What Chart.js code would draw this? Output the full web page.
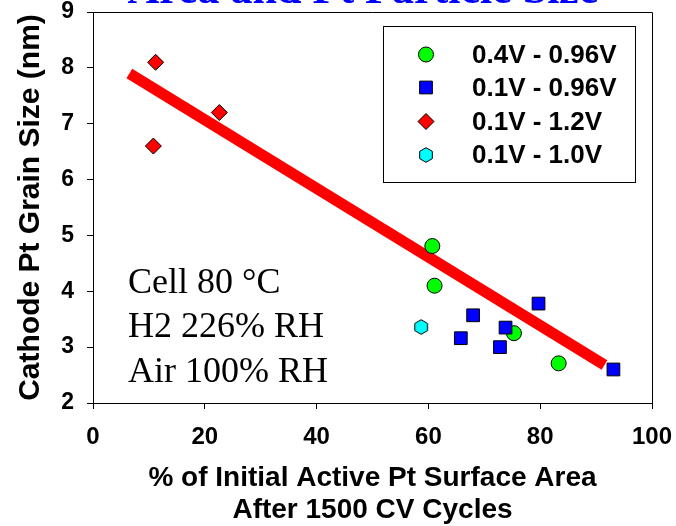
<!DOCTYPE html>
<html>
<head>
<meta charset="utf-8">
<script src="https://cdn.jsdelivr.net/npm/chart.js@4.4.0/dist/chart.umd.min.js"></script>
<style>
  html, body { margin: 0; padding: 0; background: #fff; }
  #wrap { width: 676px; height: 526px; }
</style>
</head>
<body>
<div id="wrap"><canvas id="grafico" width="676" height="526"></canvas></div>
<script>
// dados
const serieNomes = ['0.4V - 0.96V', '0.1V - 0.96V', '0.1V - 1.2V', '0.1V - 1.0V']

const verdeX = [60.7, 61.1, 75.3, 83.3]
const verdeY = [4.81, 4.10, 3.25, 2.71]
const azulX = [65.8, 68.0, 72.8, 73.8, 79.7, 93.1]
const azulY = [3.16, 3.57, 3.00, 3.35, 3.78, 2.60]
const vermelhoX = [10.8, 11.2, 22.6]
const vermelhoY = [6.60, 8.10, 7.20]
const cianoX = [58.7]
const cianoY = [3.36]

// reta de ajuste (vermelha grossa)
const ajusteX = [6.5, 91.5]
const ajusteY = [7.90, 2.68]

const xTicks = [0, 20, 40, 60, 80, 100]
const yTicks = [2, 3, 4, 5, 6, 7, 8, 9]

const tituloTopo = 'Area and Pt Particle Size'
const tituloX = ['% of Initial Active Pt Surface Area', 'After 1500 CV Cycles']
const tituloY = 'Cathode Pt Grain Size (nm)'
const notas = ['Cell 80 °C', 'H2 226% RH', 'Air 100% RH']

function pares(xs, ys) {
  return xs.map((x, i) => ({ x: x, y: ys[i] }))
}

function hexagono(r, cor) {
  const c = document.createElement('canvas')
  const s = 18
  c.width = s
  c.height = s
  const ctx = c.getContext('2d')
  ctx.beginPath()
  for (let i = 0; i < 6; i++) {
    const a = Math.PI / 2 + i * Math.PI / 3
    const px = s / 2 + r * Math.cos(a)
    const py = s / 2 + r * Math.sin(a)
    if (i) ctx.lineTo(px, py); else ctx.moveTo(px, py)
  }
  ctx.closePath()
  ctx.fillStyle = cor
  ctx.fill()
  ctx.strokeStyle = '#000'
  ctx.lineWidth = 1
  ctx.stroke()
  return c
}

const hexCiano = hexagono(7.3, '#00ffff')

const serieVerde = {
  label: serieNomes[0], data: pares(verdeX, verdeY), showLine: false,
  pointStyle: 'circle', pointRadius: 7.5, backgroundColor: '#00ff00',
  borderColor: '#000', borderWidth: 1, order: 2
}
const serieAzul = {
  label: serieNomes[1], data: pares(azulX, azulY), showLine: false,
  pointStyle: 'rect', pointRadius: 9, backgroundColor: '#0000ff',
  borderColor: '#000', borderWidth: 1, order: 1
}
const serieVermelha = {
  label: serieNomes[2], data: pares(vermelhoX, vermelhoY), showLine: false,
  pointStyle: 'rectRot', pointRadius: 8, backgroundColor: '#ff0000',
  borderColor: '#000', borderWidth: 1, order: 3
}
const serieCiana = {
  label: serieNomes[3], data: pares(cianoX, cianoY), showLine: false,
  pointStyle: hexCiano, pointRadius: 7, backgroundColor: '#00ffff',
  borderColor: '#000', borderWidth: 1, order: 4
}
const serieAjuste = {
  label: 'fit', data: pares(ajusteX, ajusteY), showLine: true,
  borderColor: '#ff0000', borderWidth: 11, pointRadius: 0, fill: false,
  borderCapStyle: 'butt', order: 5
}

const legendaSeries = [serieVerde, serieAzul, serieVermelha, serieCiana]

// moldura de cima e da direita
const moldura = {
  id: 'moldura',
  beforeDatasetsDraw(chart) {
    const { ctx, chartArea: a } = chart
    ctx.save()
    ctx.strokeStyle = '#000'
    ctx.lineWidth = 1
    ctx.beginPath()
    ctx.moveTo(a.left, a.top + 0.5)
    ctx.lineTo(a.right + 0.5, a.top + 0.5)
    ctx.lineTo(a.right + 0.5, a.bottom)
    ctx.stroke()
    ctx.restore()
  }
}

// titulo cortado, legenda e notas
const extras = {
  id: 'extras',
  afterDraw(chart) {
    const ctx = chart.ctx
    ctx.save()

    ctx.fillStyle = '#0000ff'
    ctx.font = 'bold 44px "Liberation Serif"'
    ctx.textAlign = 'center'
    ctx.textBaseline = 'alphabetic'
    ctx.fillText(tituloTopo, 363, 3)

    ctx.fillStyle = '#000'
    ctx.font = '36px "Liberation Serif"'
    ctx.textAlign = 'left'
    const basesNotas = [293, 337, 382]
    notas.forEach((t, i) => ctx.fillText(t, 128, basesNotas[i]))

    // caixa da legenda
    ctx.fillStyle = '#fff'
    ctx.fillRect(383.5, 26.5, 252, 156)
    ctx.strokeStyle = '#000'
    ctx.lineWidth = 1
    ctx.strokeRect(383.5, 26.5, 252, 156)

    const ys = [54.5, 87.5, 121.5, 155]
    legendaSeries.forEach((s, i) => {
      const y = ys[i]
      if (typeof s.pointStyle === 'object') {
        const img = s.pointStyle
        ctx.drawImage(img, 426 - img.width / 2, y - img.height / 2)
      } else {
        ctx.fillStyle = s.backgroundColor
        ctx.strokeStyle = s.borderColor
        ctx.lineWidth = s.borderWidth
        Chart.helpers.drawPoint(ctx, {
          pointStyle: s.pointStyle, radius: s.pointRadius,
          borderWidth: s.borderWidth, rotation: 0
        }, 426, y)
      }
      ctx.fillStyle = '#000'
      ctx.font = 'bold 26px "Liberation Sans"'
      ctx.textAlign = 'left'
      ctx.textBaseline = 'middle'
      ctx.fillText(s.label, 472, y + 1)
    })

    ctx.restore()
  }
}

const fonteTick = { family: '"Liberation Sans", Arial', weight: 'bold' }

new Chart(document.getElementById('grafico'), {
  type: 'scatter',
  data: { datasets: [serieVerde, serieAzul, serieVermelha, serieCiana, serieAjuste] },
  options: {
    responsive: false,
    animation: false,
    devicePixelRatio: 1,
    layout: { padding: { left: 0, right: 24, top: 12, bottom: 0 } },
    plugins: { legend: { display: false }, tooltip: { enabled: false } },
    scales: {
      x: {
        type: 'linear', min: 0, max: 100,
        afterBuildTicks: s => { s.ticks = xTicks.map(v => ({ value: v })) },
        afterFit: s => { s.height = 123; s.paddingLeft = 0; s.paddingRight = 0 },
        grid: { drawOnChartArea: false, drawTicks: true, tickLength: 6, color: '#000', lineWidth: 1 },
        border: { color: '#000', width: 1 },
        ticks: { color: '#000', font: { ...fonteTick, size: 24, lineHeight: 1.2 }, padding: 14, maxRotation: 0 },
        title: {
          display: true, text: tituloX, color: '#000',
          font: { family: '"Liberation Sans", Arial', weight: 'bold', size: 28, lineHeight: 32 / 28 },
          padding: { top: 0, bottom: 0 }
        }
      },
      y: {
        type: 'linear', min: 2, max: 9,
        afterBuildTicks: s => { s.ticks = yTicks.map(v => ({ value: v })) },
        afterFit: s => { s.width = 93; s.paddingTop = 0; s.paddingBottom = 0 },
        grid: { drawOnChartArea: false, drawTicks: true, tickLength: 6, color: '#000', lineWidth: 1 },
        border: { color: '#000', width: 1 },
        ticks: { color: '#000', font: { ...fonteTick, size: 23, lineHeight: 1.0 }, padding: 13 },
        title: {
          display: true, text: tituloY, color: '#000',
          font: { family: '"Liberation Sans", Arial', weight: 'bold', size: 30, lineHeight: 1.2 },
          padding: { top: 13, bottom: 0 }
        }
      }
    }
  },
  plugins: [moldura, extras]
})
</script>
</body>
</html>
